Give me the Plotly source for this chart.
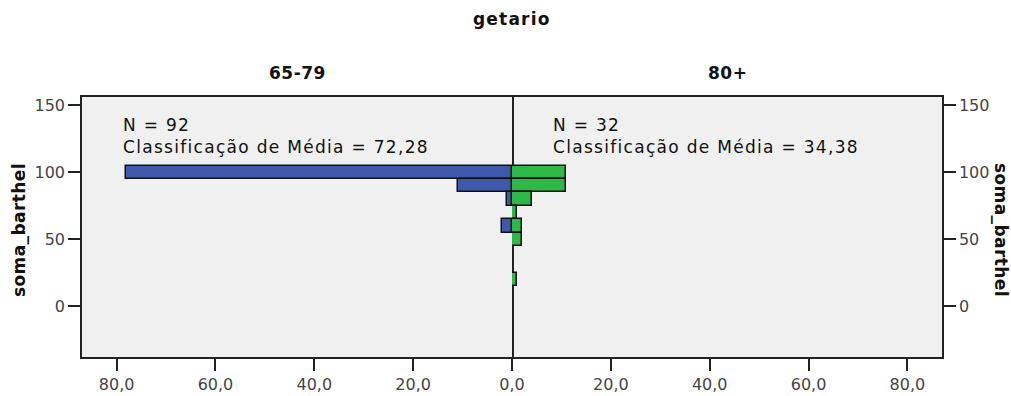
import plotly.graph_objects as go

# Data
bins_left = [100, 90, 80, 60]
counts_left = [78, 11, 1, 2]
bins_right = [100, 90, 80, 70, 60, 50, 20]
counts_right = [11, 11, 4, 1, 2, 2, 1]
group_labels = ["65-79", "80+"]
n_values = [92, 32]
mean_ranks = ["72,28", "34,38"]
x_ticks = [0, 20, 40, 60, 80]
x_ticktext_left = ["0,0", "20,0", "40,0", "60,0", "80,0"]
x_ticktext_right = ["", "20,0", "40,0", "60,0", "80,0"]
y_ticks = [0, 50, 100, 150]

BLUE = "#3E58AC"
GREEN = "#2EB848"
FONT = "DejaVu Sans"
BG = "#F0F0F0"

fig = go.Figure()
fig.add_trace(go.Bar(y=bins_left, x=counts_left, orientation="h", width=10,
                     marker=dict(color=BLUE, line=dict(color="#111", width=1.5)),
                     xaxis="x", yaxis="y", showlegend=False))
fig.add_trace(go.Bar(y=bins_right, x=counts_right, orientation="h", width=10,
                     marker=dict(color=GREEN, line=dict(color="#111", width=1.5)),
                     xaxis="x2", yaxis="y2", showlegend=False))

axis_common = dict(showgrid=False, zeroline=False, showline=True, linecolor="#222",
                   linewidth=1.5, ticks="outside", ticklen=12, tickcolor="#222",
                   tickwidth=1.5, automargin=False,
                   tickfont=dict(family=FONT, size=16, color="#444"))

yr = [-37.7, 156.2]
fig.update_layout(
    width=1011, height=396,
    margin=dict(l=82, r=69, t=97, b=39),
    paper_bgcolor="white", plot_bgcolor=BG,
    separators=",.",
    bargap=0,
    xaxis=dict(domain=[0, 0.5], range=[87, 0], tickvals=x_ticks, ticktext=x_ticktext_left,
               mirror=True, anchor="y", **axis_common),
    xaxis2=dict(domain=[0.5, 1], range=[0, 87], tickvals=x_ticks, ticktext=x_ticktext_right,
                mirror=True, anchor="y2", **axis_common),
    yaxis=dict(range=yr, tickvals=y_ticks, anchor="x", side="left", mirror=True,
               **axis_common),
    yaxis2=dict(range=yr, tickvals=y_ticks, anchor="x2", side="right", mirror=False,
                **axis_common),
    font=dict(family=FONT, color="#222"),
)

plot_h = 396 - 97 - 39
def py(pix):
    return (396 - 39 - pix) / plot_h

def spaced(t, px, bold=False):
    inner = f"<b>{t}</b>" if bold else t
    return f'<span style="letter-spacing:{px}px">{inner}</span>'

annotations = [
    dict(text=spaced("getario", 1.2, True), x=(512 - 82) / 860, y=py(19), xref="paper", yref="paper",
         showarrow=False, font=dict(family=FONT, size=17, color="#111"),
         xanchor="center", yanchor="middle"),
    dict(text=spaced(group_labels[0], 0.5, True), x=0.25, y=py(73), xref="paper", yref="paper",
         showarrow=False, font=dict(family=FONT, size=17, color="#111"),
         xanchor="center", yanchor="middle"),
    dict(text=spaced(group_labels[1], 0.5, True), x=0.75, y=py(73), xref="paper", yref="paper",
         showarrow=False, font=dict(family=FONT, size=17, color="#111"),
         xanchor="center", yanchor="middle"),
    dict(text=spaced("soma_barthel", 0.4, True), x=(19 - 82) / 860, y=py(230), xref="paper", yref="paper",
         showarrow=False, textangle=-90, font=dict(family=FONT, size=17, color="#111"),
         xanchor="center", yanchor="middle"),
    dict(text=spaced("soma_barthel", 0.4, True), x=(1001 - 82) / 860, y=py(230), xref="paper", yref="paper",
         showarrow=False, textangle=90, font=dict(family=FONT, size=17, color="#111"),
         xanchor="center", yanchor="middle"),
]
for i, xpix in enumerate([121, 551]):
    annotations.append(dict(
        text=spaced(f"N = {n_values[i]}", 1.3) + "<br>" +
             spaced(f"Classificação de Média = {mean_ranks[i]}", 1.3),
        x=(xpix - 82) / 860, y=py(113), xref="paper", yref="paper", showarrow=False,
        xanchor="left", yanchor="top", align="left",
        font=dict(family=FONT, size=17, color="#111")))
fig.update_layout(annotations=annotations)

fig.write_html("out.html")
